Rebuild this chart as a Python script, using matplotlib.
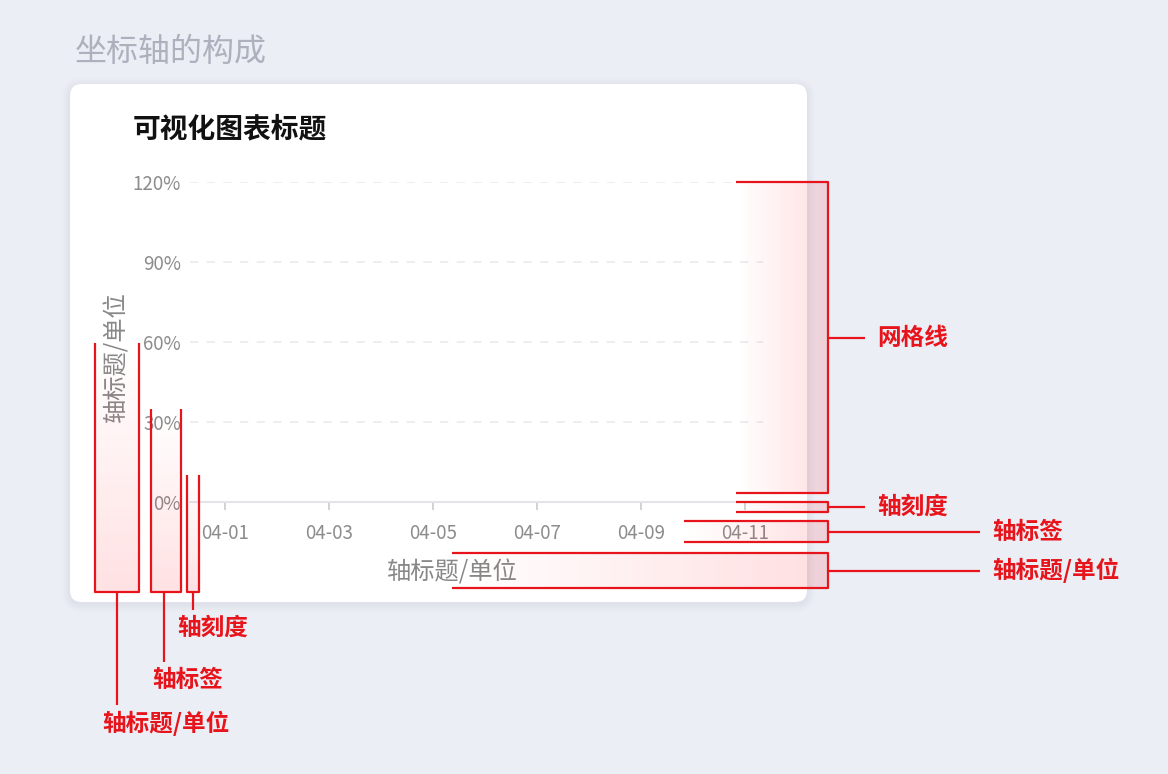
import numpy as np
import matplotlib.pyplot as plt
from matplotlib.patches import FancyBboxPatch

plt.rcParams['font.family'] = ['Noto Sans CJK SC', 'DejaVu Sans']

# chart content
page_title = '坐标轴的构成'
chart_title = '可视化图表标题'
axis_title = '轴标题/单位'
dates = ['04-01', '04-02', '04-03', '04-04', '04-05', '04-06',
         '04-07', '04-08', '04-09', '04-10', '04-11']
y_ticks = [0, 30, 60, 90, 120]

W, H = 1168, 774
RED = '#E8141B'
BG = '#ECEEF5'

fig = plt.figure(figsize=(W / 100, H / 100), dpi=100)
fig.patch.set_facecolor(BG)


def pix_axes(z):
  a = fig.add_axes([0, 0, 1, 1], zorder=z)
  a.set_xlim(0, W)
  a.set_ylim(H, 0)
  a.axis('off')
  a.patch.set_alpha(0)
  return a


# background layer: card + titles
back = pix_axes(0)
for i, al in enumerate([0.025, 0.02, 0.015, 0.01]):
  g = 2 + i * 2
  back.add_patch(FancyBboxPatch((70 - g, 84 - g + 2), 737 + 2 * g, 518 + 2 * g,
                                boxstyle='round,pad=0,rounding_size=%d' % (12 + g),
                                fc='#5A607A', ec='none', alpha=al))
back.add_patch(FancyBboxPatch((70, 84), 737, 518, boxstyle='round,pad=0,rounding_size=12',
                              fc='white', ec='none'))
back.text(75, 52, page_title, fontsize=23, color='#ADB0BD', va='center', ha='left')
back.text(133, 129, chart_title, fontsize=20, color='#111111', va='center', ha='left',
          fontweight='bold')

# the chart itself
x0, x1, yb, yt = 190, 763, 502, 182
ax = fig.add_axes([x0 / W, (H - yb) / H, (x1 - x0) / W, (yb - yt) / H], zorder=1)
ax.patch.set_alpha(0)
xs = np.arange(len(dates))
ax.set_xlim(-0.673, 10.346)
ax.set_ylim(0, 120)
ax.set_xticks(xs[::2])
ax.set_xticklabels(dates[::2])
ax.set_yticks(y_ticks)
ax.set_yticklabels([f'{v}%' for v in y_ticks])
for v in y_ticks[1:]:
  ax.axhline(v, color='#EAEBEE', lw=1.2, ls=(0, (5, 5)), zorder=0)
for s in ['top', 'right', 'left']:
  ax.spines[s].set_visible(False)
ax.spines['bottom'].set_color('#E3E4E8')
ax.spines['bottom'].set_linewidth(1.5)
ax.tick_params(axis='y', length=0, pad=6.5, labelsize=13.5, labelcolor='#8C8C8C')
ax.tick_params(axis='x', length=6, width=1.3, color='#CFCFD3', pad=9, labelsize=13.5,
               labelcolor='#8C8C8C')
ax.set_xlabel(axis_title, fontsize=17.5, color='#888888', va='center')
ax.xaxis.set_label_coords((452 - x0) / (x1 - x0), -(573 - yb) / (yb - yt))
ax.set_ylabel(axis_title, fontsize=17.5, color='#888888', va='center')
ax.yaxis.set_label_coords(-(x0 - 116) / (x1 - x0), (yb - 357) / (yb - yt))

# annotation layer
fg = pix_axes(3)


def vgrad(xa, xb, ya, yb2):
  a = np.zeros((64, 2, 4))
  a[..., 0], a[..., 1], a[..., 2] = 1.0, 0.1, 0.15
  a[..., 3] = np.linspace(0, 0.13, 64)[:, None]
  fg.imshow(a, extent=(xa, xb, yb2, ya), aspect='auto', interpolation='bilinear', zorder=1)


def hgrad(xa, xb, ya, yb2):
  a = np.zeros((2, 64, 4))
  a[..., 0], a[..., 1], a[..., 2] = 1.0, 0.1, 0.15
  a[..., 3] = np.linspace(0, 0.14, 64)[None, :]
  fg.imshow(a, extent=(xa, xb, yb2, ya), aspect='auto', interpolation='bilinear', zorder=1)


def line(xx, yy):
  fg.plot(xx, yy, color=RED, lw=1.6, solid_capstyle='butt', zorder=2)


def label(x, y, s, ha='center'):
  fg.text(x, y, s, color=RED, fontsize=17, fontweight='bold', ha=ha, va='center', zorder=3)


# left side: open-top boxes with leader lines downwards
left_boxes = [(95, 139, 343, 117, 705, 166, 723, axis_title),
              (151, 181, 409, 164, 662, 188, 680, '轴标签'),
              (187, 199, 475, 193, 610, 213, 628, '轴刻度')]
for xa, xb, ytop, lx, ly, tx, ty, s in left_boxes:
  vgrad(xa, xb, ytop, 592)
  line([xa, xa, xb, xb], [ytop, 592, 592, ytop])
  line([lx, lx], [592, ly])
  label(tx, ty, s)

# right side: open-left brackets with leader lines to the right
right_boxes = [(736, 182, 493, 865, '网格线'),
               (736, 502, 512, 865, '轴刻度'),
               (684, 521, 542, 980, '轴标签'),
               (452, 553, 588, 980, axis_title)]
for xa, ya, yb2, lx, s in right_boxes:
  hgrad(xa, 828, ya, yb2)
  line([xa, 828, 828, xa], [ya, ya, yb2, yb2])
  ym = (ya + yb2) / 2
  line([828, lx], [ym, ym])
  label(lx + 12, ym, s, ha='left')

fig.savefig('out.png', dpi=100, facecolor=BG)
